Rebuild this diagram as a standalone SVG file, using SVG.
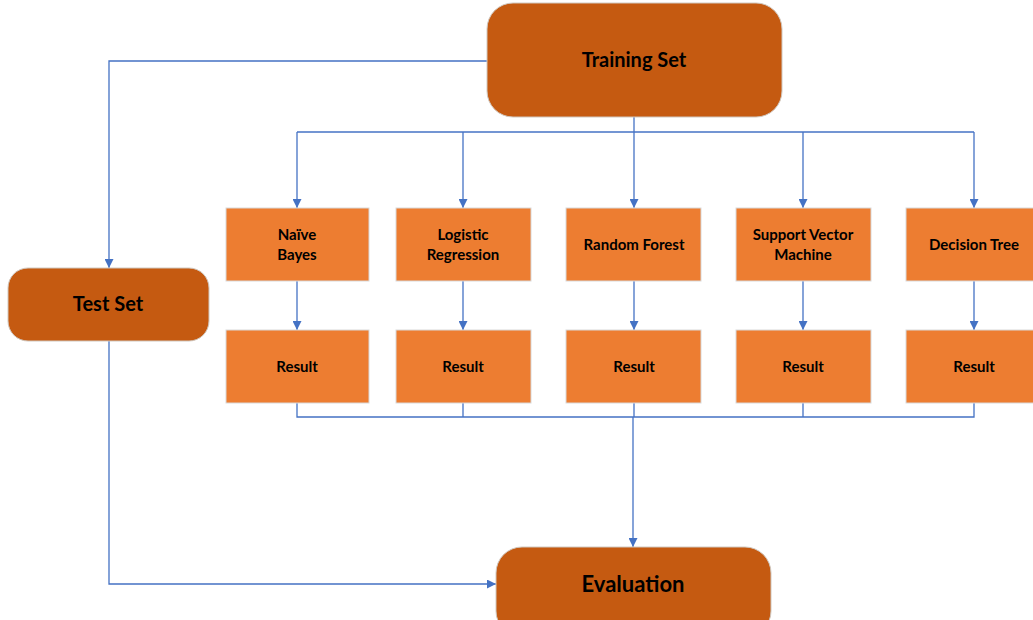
<svg xmlns="http://www.w3.org/2000/svg" width="1033" height="620" viewBox="0 0 1033 620">
<style>
.dark{fill:#C55A11;stroke:#d0c8c0;stroke-width:1}
.light{fill:#ED7D31;stroke:#d9d9d9;stroke-width:1}
.t{font-family:Lato,"Liberation Sans",sans-serif;font-weight:bold;fill:#000;text-anchor:middle}
.s{font-size:15px}
.c{fill:none;stroke:#4472C4;stroke-width:1.3}
</style>
<defs>
<marker id="ah" viewBox="0 0 10 10" refX="10" refY="5" markerWidth="9" markerHeight="9" markerUnits="userSpaceOnUse" orient="auto">
<path d="M0,0 L10,5 L0,10 z" fill="#4472C4"/>
</marker>
</defs>
<rect width="1033" height="620" fill="#fff"/>
<g id="connectors">
<path class="c" d="M634,117 V132"/>
<path class="c" d="M297,132 H974"/>
<path class="c" d="M297,132 V208" marker-end="url(#ah)"/>
<path class="c" d="M463,132 V208" marker-end="url(#ah)"/>
<path class="c" d="M634,132 V208" marker-end="url(#ah)"/>
<path class="c" d="M803,132 V208" marker-end="url(#ah)"/>
<path class="c" d="M974,132 V208" marker-end="url(#ah)"/>
<path class="c" d="M297,281 V330" marker-end="url(#ah)"/>
<path class="c" d="M463,281 V330" marker-end="url(#ah)"/>
<path class="c" d="M634,281 V330" marker-end="url(#ah)"/>
<path class="c" d="M803,281 V330" marker-end="url(#ah)"/>
<path class="c" d="M974,281 V330" marker-end="url(#ah)"/>
<path class="c" d="M297,403 V417 H974 V403"/>
<path class="c" d="M463,403 V417"/>
<path class="c" d="M634,403 V417"/>
<path class="c" d="M803,403 V417"/>
<path class="c" d="M633,417 V547" stroke-width="2" marker-end="url(#ah)"/>
<path class="c" d="M487,61 H109 V268" marker-end="url(#ah)"/>
<path class="c" d="M109,341 V584 H496" marker-end="url(#ah)"/>
</g>
<g id="training">
<rect class="dark" x="487" y="3" width="295" height="114" rx="26"/>
<text class="t" x="634" y="67" font-size="20">Training Set</text>
</g>
<g id="test">
<rect class="dark" x="8" y="268" width="201" height="73" rx="20"/>
<text class="t" x="108" y="311" font-size="20">Test Set</text>
</g>
<g id="evaluation">
<rect class="dark" x="496" y="547" width="275" height="90" rx="26"/>
<text class="t" x="633" y="592" font-size="22">Evaluation</text>
</g>
<g id="naive">
<rect class="light" x="226" y="208" width="143" height="73"/>
<text class="t s" x="297" y="240">Naïve</text>
<text class="t s" x="297" y="260">Bayes</text>
</g>
<g id="logistic">
<rect class="light" x="396" y="208" width="135" height="73"/>
<text class="t s" x="463" y="240">Logistic</text>
<text class="t s" x="463" y="260">Regression</text>
</g>
<g id="rf">
<rect class="light" x="566" y="208" width="135" height="73"/>
<text class="t s" x="634" y="250">Random Forest</text>
</g>
<g id="svm">
<rect class="light" x="736" y="208" width="135" height="73"/>
<text class="t s" x="803" y="240">Support Vector</text>
<text class="t s" x="803" y="260">Machine</text>
</g>
<g id="dt">
<rect class="light" x="906" y="208" width="135" height="73"/>
<text class="t s" x="974" y="250">Decision Tree</text>
</g>
<g id="r1"><rect class="light" x="226" y="330" width="143" height="73"/><text class="t s" x="297" y="372">Result</text></g>
<g id="r2"><rect class="light" x="396" y="330" width="135" height="73"/><text class="t s" x="463" y="372">Result</text></g>
<g id="r3"><rect class="light" x="566" y="330" width="135" height="73"/><text class="t s" x="634" y="372">Result</text></g>
<g id="r4"><rect class="light" x="736" y="330" width="135" height="73"/><text class="t s" x="803" y="372">Result</text></g>
<g id="r5"><rect class="light" x="906" y="330" width="135" height="73"/><text class="t s" x="974" y="372">Result</text></g>
</svg>
